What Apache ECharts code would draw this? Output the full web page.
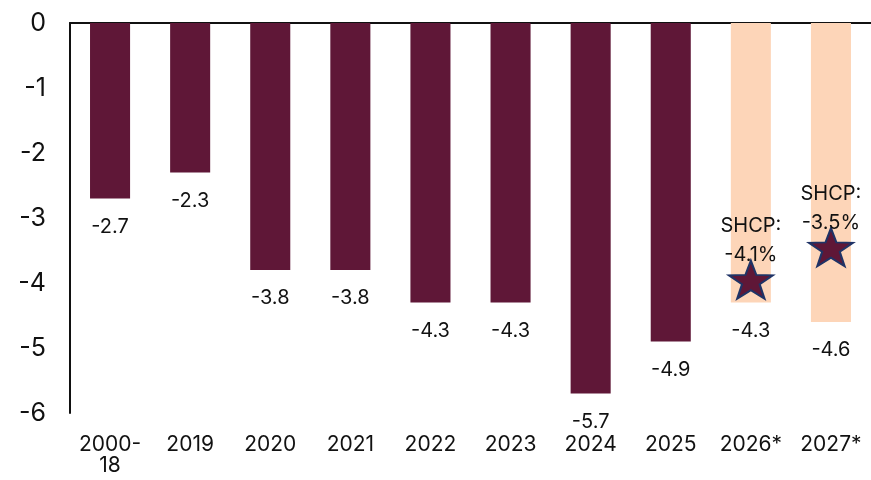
<!DOCTYPE html>
<html>
<head>
<meta charset="utf-8">
<script src="https://cdn.jsdelivr.net/npm/echarts@6/dist/echarts.min.js"></script>
<style>
  html, body { margin: 0; padding: 0; background: #fff; }
  #chart { width: 871px; height: 480px; }
</style>
</head>
<body>
<div id="chart"></div>
<script>
// balance, % of GDP
var categories = ['2000-\n18', '2019', '2020', '2021', '2022', '2023', '2024', '2025', '2026*', '2027*'];
var values = [-2.7, -2.3, -3.8, -3.8, -4.3, -4.3, -5.7, -4.9, -4.3, -4.6];
// SHCP targets (star markers)
var shcpCategories = ['2026*', '2027*'];
var shcpStarPos = [-3.95, -3.45];
var shcpValues = [-4.1, -3.5];
var yTicks = [-6, 0, 1];

var MAROON = '#5f1737';
var PEACH = '#fdd5b8';
var NAVY = '#1f3366';
var FONT = 'Inter';

// 5 point star path
function starPath() {
  var pts = [];
  for (var i = 0; i < 10; i++) {
    var r = i % 2 === 0 ? 50 : 20;
    var a = Math.PI / 2 + i * Math.PI / 5;
    pts.push((50 + r * Math.cos(a)).toFixed(2) + ',' + (50 - r * Math.sin(a)).toFixed(2));
  }
  return 'path://M' + pts.join('L') + 'Z';
}

var chart = echarts.init(document.getElementById('chart'));

var option = {
  backgroundColor: '#ffffff',
  animation: false,
  grid: { left: 70, right: -5, top: 23, bottom: 67 },
  xAxis: [
    {
      type: 'category',
      data: categories,
      position: 'bottom',
      axisLine: { show: false },
      axisTick: { show: false },
      axisLabel: {
        color: '#111', fontSize: 21, fontFamily: FONT, margin: 21,
        lineHeight: 21, interval: 0
      }
    },
    {
      type: 'category',
      data: categories,
      position: 'top',
      axisLine: { show: true, onZero: false, lineStyle: { color: '#111', width: 2 } },
      axisTick: { show: false },
      axisLabel: { show: false }
    }
  ],
  yAxis: {
    type: 'value',
    min: yTicks[0],
    max: yTicks[1],
    interval: yTicks[2],
    axisLine: { show: true, lineStyle: { color: '#111', width: 2 } },
    axisTick: { show: false },
    splitLine: { show: false },
    axisLabel: { color: '#111', fontSize: 25, fontFamily: FONT, margin: 24 }
  },
  series: [
    {
      type: 'bar',
      data: values,
      barWidth: '50%',
      itemStyle: {
        color: function (p) {
          return categories[p.dataIndex].indexOf('*') >= 0 ? PEACH : MAROON;
        }
      },
      label: {
        show: true,
        position: 'bottom',
        distance: 18,
        color: '#111',
        fontSize: 20,
        fontFamily: FONT,
        formatter: function (p) { return p.value.toFixed(1); }
      }
    },
    {
      type: 'scatter',
      data: shcpCategories.map(function (c, i) { return [c, shcpStarPos[i]]; }),
      symbol: starPath(),
      symbolSize: [44, 38],
      itemStyle: { color: MAROON, borderColor: NAVY, borderWidth: 2, opacity: 1 },
      label: {
        show: true,
        position: 'top',
        distance: -10,
        color: '#111',
        opacity: 1,
        fontSize: 20,
        fontFamily: FONT,
        lineHeight: 29,
        formatter: function (p) {
          return 'SHCP:\n' + shcpValues[p.dataIndex].toFixed(1) + '%';
        }
      },
      z: 5
    }
  ]
};

chart.setOption(option);
</script>
</body>
</html>
